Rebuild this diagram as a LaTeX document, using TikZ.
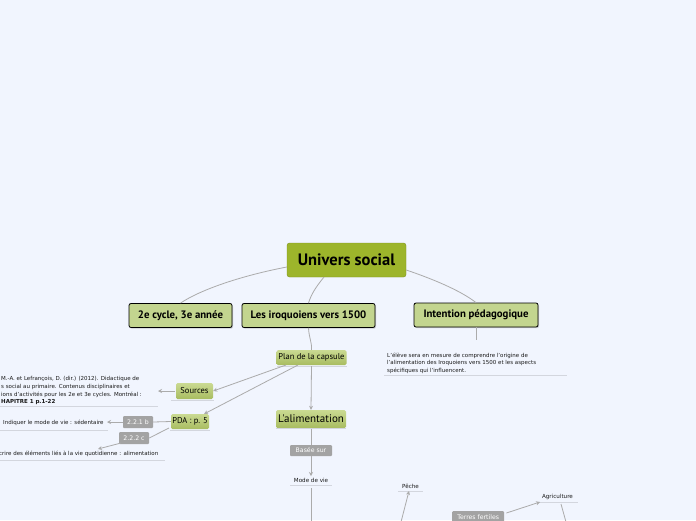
\documentclass[tikz,border=0pt]{standalone}
\usepackage{fontspec}
\setmainfont{DejaVu Sans}
\newfontfamily\titlefont{PT Sans}
\usetikzlibrary{shadows,arrows.meta}
\definecolor{bg}{HTML}{F1F5FE}
\definecolor{rootgreen}{HTML}{9DB52B}
\definecolor{lightgreen}{HTML}{C3D58F}
\definecolor{gtop}{HTML}{CADA92}
\definecolor{gbot}{HTML}{A8BC60}
\definecolor{conn}{HTML}{ABABAB}
\definecolor{graybox}{HTML}{A3A3A3}
\definecolor{uline}{HTML}{D3D6DE}
\tikzset{
  rootbox/.style={draw=rootgreen!80!black, line width=0.4pt, fill=rootgreen, rounded corners=2.5pt, minimum width=119pt, minimum height=34pt, inner sep=0pt, font=\titlefont\bfseries\fontsize{16.5}{18}\selectfont},
  topicbox/.style={draw=black, line width=0.8pt, fill=lightgreen, rounded corners=2pt, minimum height=24pt, inner sep=0pt, font=\titlefont\bfseries\fontsize{10.8}{12}\selectfont, drop shadow={opacity=0.35, shadow xshift=1pt, shadow yshift=-1.2pt}},
  subbox/.style={top color=gtop, bottom color=gbot, draw=none, rounded corners=1.5pt, inner sep=0pt, font=\titlefont\fontsize{8.5}{10}\selectfont},
  tagbox/.style={fill=graybox, rounded corners=1pt, inner sep=0pt, minimum height=12pt, text=white, font=\fontsize{6.2}{7}\selectfont},
  smalltext/.style={inner sep=0pt, font=\fontsize{5.5}{7.7}\selectfont, text=black!90},
  conline/.style={draw=conn, line width=0.8pt},
  conarrow/.style={draw=conn, line width=0.8pt, -{Stealth[length=4pt,width=4pt]}},
  uln/.style={draw=uline, line width=0.9pt}
}
\begin{document}
\begin{tikzpicture}[x=1pt,y=-1pt]
\fill[bg] (0,0) rectangle (696,520);
\useasboundingbox (0,0) rectangle (696,520);
\begin{scope}
\clip (0,0) rectangle (696,520);
% root
\node[rootbox] (root) at (346.5,260) {Univers social};
% level 1
\node[topicbox, minimum width=103pt] (cyc) at (180.5,315.5) {2e cycle, 3e année};
\node[topicbox, minimum width=133pt] (iro) at (308.5,315.5) {Les iroquoiens vers 1500};
\node[topicbox, minimum width=124pt] (int) at (476,315) {Intention pédagogique};
% root connectors
\draw[conline] (root.west) ++(0,7) .. controls (240,276) and (200,290) .. (cyc.north);
\draw[conline] (324,277) .. controls (315,288) and (311,295) .. (iro.north);
\draw[conline] (root.east) ++(0,10) .. controls (430,278) and (460,290) .. (int.north);
% intention text
\draw[conline] (int.south) -- (476,340);
\node[smalltext, anchor=north west, align=left] (inttxt) at (387,352.5) {L'élève sera en mesure de comprendre l'origine de\\l'alimentation des Iroquoiens vers 1500 et les aspects\\spécifiques qui l'influencent.};
\draw[uln] (384,375) -- (567,375);
% plan de la capsule
\node[subbox, minimum width=70pt, minimum height=15pt] (plan) at (311.5,357.5) {Plan de la capsule};
\draw[uln] (277,366.5) -- (347,366.5);
\draw[conline] (iro.south) .. controls (309,338) and (312,342) .. (plan.north);
% sources
\node[subbox, minimum width=37pt, minimum height=16pt] (src) at (194.5,391) {Sources};
\node[subbox, minimum width=38pt, minimum height=15pt] (pda) at (190,421.5) {PDA : p. 5};
\draw[uln] (171,400.5) -- (214,400.5);
\draw[uln] (170,430.5) -- (210,430.5);
\draw[conarrow] (286,365) -- (src.east);
\draw[conarrow] (298,365) -- (204,414);
% sources text
\node[smalltext, anchor=north west, align=left] (srctxt) at (1,376.5) {M.-A. et Lefrançois, D. (dir.) (2012). Didactique de\\s social au primaire. Contenus disciplinaires et\\ions d'activités pour les 2e et 3e cycles. Montréal :\\\textbf{HAPITRE 1 p.1-22}};
\coordinate (srcend) at (158,391);
\draw[conarrow] (175,391) -- (srcend);
\draw[uln] (0,406.5) -- (158,406.5);
% 2.2.1 b
\node[tagbox, minimum width=30pt] (b221) at (138,422) {2.2.1 b};
\draw[conline] (pda.west) -- (b221.east);
\coordinate (b221end) at (107,422);
\draw[conarrow] (b221.west) -- (b221end);
\node[smalltext, anchor=west] (b221txt) at (3,423) {Indiquer le mode de vie : sédentaire};
\draw[uln] (0,430) -- (108,430);
% 2.2.2 c
\node[tagbox, minimum width=30pt] (c222) at (134,438) {2.2.2 c};
\draw[conline] (169,428) -- (c222.east);
\coordinate (c222end) at (98,449);
\draw[conarrow] (121,443) -- (c222end);
\node[smalltext, anchor=west] (c222txt) at (-1,454) {crire des éléments liés à la vie quotidienne : alimentation};
\draw[uln] (0,460.5) -- (165,460.5);
% alimentation
\node[subbox, minimum width=70pt, minimum height=18pt, font=\titlefont\fontsize{11}{13}\selectfont] (alim) at (311,419) {L'alimentation};
\draw[uln] (276,428.5) -- (346,428.5);
\draw[conarrow] (plan.south) ++(0,1) -- (alim.north);
% basée sur
\node[tagbox, minimum width=42pt, minimum height=11pt] (base) at (311,450.5) {Basée sur};
\draw[conline] (alim.south) ++(0,1) -- (base.north);
\node[smalltext, font=\fontsize{5.6}{7}\selectfont] (mode) at (311,480) {Mode de vie};
\draw[uln] (290,485.5) -- (332,485.5);
\draw[conarrow] (base.south) -- (311,476);
\coordinate (modebot) at (311,521);
\draw[conline] (311,488) -- (modebot);
% pêche
\node[smalltext, font=\fontsize{5.6}{7}\selectfont] (peche) at (410.5,486) {Pêche};
\draw[uln] (398,491.5) -- (423,491.5);
\coordinate (pechebot) at (401,522);
\draw[conarrow] (pechebot) -- (409,491);
% agriculture
\node[smalltext, font=\fontsize{5.6}{7}\selectfont] (agri) at (557.5,497) {Agriculture};
\draw[uln] (538,502.5) -- (578,502.5);
\node[tagbox, minimum width=52pt, minimum height=12pt, anchor=north west] (terres) at (452,511) {Terres fertiles};
\draw[conarrow] (terres.north east) ++(2,2) -- (540,502);
\coordinate (agribot) at (566,522);
\draw[conline] (561,504) -- (agribot);
\end{scope}
\end{tikzpicture}
\end{document}
